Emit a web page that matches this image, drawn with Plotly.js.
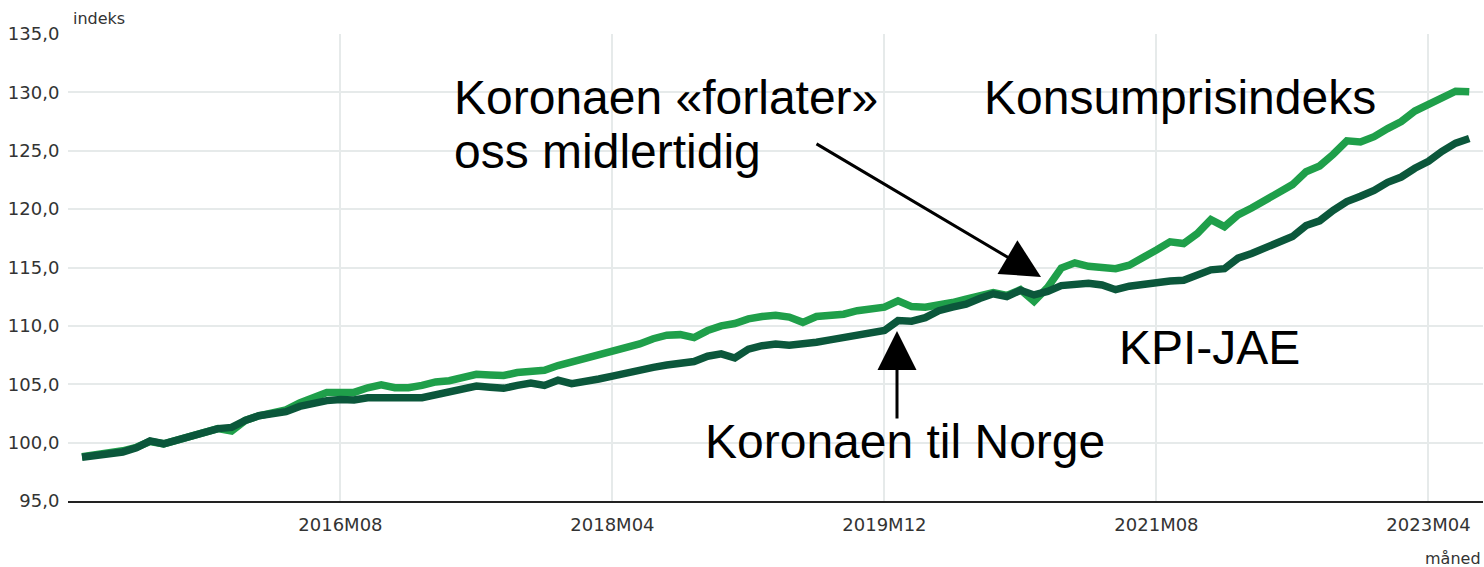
<!DOCTYPE html>
<html>
<head>
<meta charset="utf-8">
<script src="https://cdn.plot.ly/plotly-3.0.1.min.js"></script>
<style>html,body{margin:0;padding:0;background:#fff;}#chart{width:1484px;height:567px;}</style>
</head>
<body>
<div id="chart"></div>
<script>
// Months 2015M01 .. 2023M07
const startYear = 2015;
const nMonths = 103;
const months = [];
for (let i = 0; i < nMonths; i++) {
  const y = startYear + Math.floor(i / 12);
  const m = (i % 12) + 1;
  months.push(y + 'M' + (m < 10 ? '0' + m : m));
}

// Konsumprisindeks (KPI)
const kpi = [
  98.8, 98.95, 99.1, 99.3, 99.6, 100.1, 99.9, 100.25, 100.6, 100.95, 101.2, 101.0,
  101.9, 102.3, 102.55, 102.8, 103.4, 103.9, 104.3, 104.3, 104.3, 104.7, 104.95, 104.7,
  104.7, 104.9, 105.2, 105.3, 105.5, 105.85, 105.8, 105.75, 106.0, 106.1, 106.2, 106.6,
  106.9, 107.2, 107.5, 107.75, 108.0, 108.45, 108.9, 109.2, 109.25, 109.0, 109.6, 110.0,
  110.2, 110.6, 110.8, 110.9, 110.75, 110.3, 110.8, 110.85, 111.0, 111.3, 111.5, 111.6,
  112.15, 111.65, 111.6, 111.75, 112.0, 112.3, 112.6, 112.85, 112.6, 113.1, 112.1, 113.3,
  114.95, 115.4, 115.1, 114.95, 114.9, 115.2, 115.8, 116.5, 117.2, 117.05, 117.9, 119.1,
  118.5, 119.5, 120.1, 120.75, 121.35, 122.1, 123.2, 123.7, 124.7, 125.85, 125.75, 126.2,
  126.9, 127.5, 128.4, 128.95, 129.6, 130.1, 130.05
];

// KPI-JAE
const kpiJae = [
  98.75, 98.85, 99.0, 99.2, 99.55, 100.15, 99.9, 100.2, 100.6, 100.9, 101.2, 101.3,
  101.9, 102.3, 102.5, 102.65, 103.1, 103.4, 103.6, 103.7, 103.65, 103.85, 103.9, 103.9,
  103.85, 103.85, 104.1, 104.35, 104.6, 104.85, 104.75, 104.65, 104.9, 105.1, 104.9, 105.35,
  105.05, 105.2, 105.45, 105.7, 106.0, 106.25, 106.45, 106.65, 106.8, 106.95, 107.4, 107.6,
  107.25, 108.0, 108.3, 108.45, 108.35, 108.4, 108.6, 108.8, 109.0, 109.2, 109.35, 109.6,
  110.45, 110.4, 110.7, 111.3, 111.6, 111.85, 112.35, 112.75, 112.5, 113.05, 112.65, 112.95,
  113.45, 113.55, 113.65, 113.5, 113.1, 113.4, 113.6, 113.75, 113.85, 113.9, 114.4, 114.8,
  114.9, 115.8, 116.2, 116.7, 117.2, 117.65, 118.6, 119.0, 119.9, 120.65, 121.1, 121.6,
  122.3, 122.75, 123.5, 124.1, 124.95, 125.65, 126.05
];

const xTicks = ['2016M08', '2018M04', '2019M12', '2021M08', '2023M04'];
const yTicks = [95, 100, 105, 110, 115, 120, 125, 130, 135];

const lightGreen = '#1f9f4a';
const darkGreen = '#0b573b';

const traces = [
  {x: months, y: kpi, type: 'scatter', mode: 'lines', name: 'Konsumprisindeks',
   line: {color: lightGreen, width: 7.5, shape: 'linear'}},
  {x: months, y: kpiJae, type: 'scatter', mode: 'lines', name: 'KPI-JAE',
   line: {color: darkGreen, width: 7.5, shape: 'linear'}}
];

const tickFont = {family: 'DejaVu Sans, Verdana, sans-serif', size: 18, color: '#333333'};
const bigFont = {family: 'Liberation Sans, Arial, sans-serif', size: 48, color: '#000000'};

const layout = {
  width: 1484, height: 567,
  margin: {l: 68, r: 1, t: 34, b: 66, pad: 0},
  paper_bgcolor: '#ffffff', plot_bgcolor: '#ffffff',
  showlegend: false,
  separators: ', ',
  xaxis: {
    type: 'category',
    range: [-1.03, 103.01],
    tickvals: xTicks, ticktext: xTicks,
    showgrid: true, gridcolor: '#e6eaea', gridwidth: 2,
    showline: true, linecolor: '#222222', linewidth: 2,
    ticks: 'outside', ticklen: 6, tickcolor: 'rgba(0,0,0,0)',
    tickfont: tickFont, zeroline: false, fixedrange: true
  },
  yaxis: {
    range: [95, 135],
    tickvals: yTicks, tickformat: '.1f',
    showgrid: true, gridcolor: '#e6eaea', gridwidth: 2,
    showline: false, zeroline: false,
    ticks: 'outside', ticklen: 4, tickcolor: 'rgba(0,0,0,0)',
    tickfont: tickFont, fixedrange: true
  },
  annotations: [
    {xref: 'paper', yref: 'paper', x: 0.002, y: 1.0, xanchor: 'left', yanchor: 'bottom', yshift: 4,
     text: 'indeks', showarrow: false, font: {family: 'DejaVu Sans, Verdana, sans-serif', size: 16, color: '#333333'}},
    {xref: 'paper', yref: 'paper', x: 1.0, y: 0, xanchor: 'right', yanchor: 'top', yshift: -46,
     text: 'måned', showarrow: false, font: {family: 'DejaVu Sans, Verdana, sans-serif', size: 16, color: '#333333'}},
    {xref: 'paper', yref: 'paper', x: (452 - 68) / 1415, y: (501 - 97) / 467, xanchor: 'left', yanchor: 'middle',
     text: 'Koronaen «forlater»', showarrow: false, font: bigFont},
    {xref: 'paper', yref: 'paper', x: (452 - 68) / 1415, y: (501 - 151) / 467, xanchor: 'left', yanchor: 'middle',
     text: 'oss midlertidig', showarrow: false, font: bigFont},
    {xref: 'paper', yref: 'paper', x: (982 - 68) / 1415, y: (501 - 97) / 467, xanchor: 'left', yanchor: 'middle',
     text: 'Konsumprisindeks', showarrow: false, font: bigFont},
    {xref: 'paper', yref: 'paper', x: (1117 - 68) / 1415, y: (501 - 347) / 467, xanchor: 'left', yanchor: 'middle',
     text: 'KPI-JAE', showarrow: false, font: bigFont},
    {xref: 'paper', yref: 'paper', x: (703 - 68) / 1415, y: (501 - 442) / 467, xanchor: 'left', yanchor: 'middle',
     text: 'Koronaen til Norge', showarrow: false, font: bigFont},
    // arrows
    {xref: 'paper', yref: 'paper', x: (1041 - 68) / 1415, y: (501 - 277) / 467, ax: -226, ay: -134,
     text: '', showarrow: true, arrowhead: 2, arrowsize: 2.6, arrowwidth: 3, arrowcolor: '#000000', standoff: 0},
    {xref: 'paper', yref: 'paper', x: (897 - 68) / 1415, y: (501 - 331) / 467, ax: 0, ay: 89,
     text: '', showarrow: true, arrowhead: 2, arrowsize: 2.6, arrowwidth: 3, arrowcolor: '#000000', standoff: 0}
  ]
};

Plotly.newPlot('chart', traces, layout, {staticPlot: true, displayModeBar: false});
</script>
</body>
</html>
